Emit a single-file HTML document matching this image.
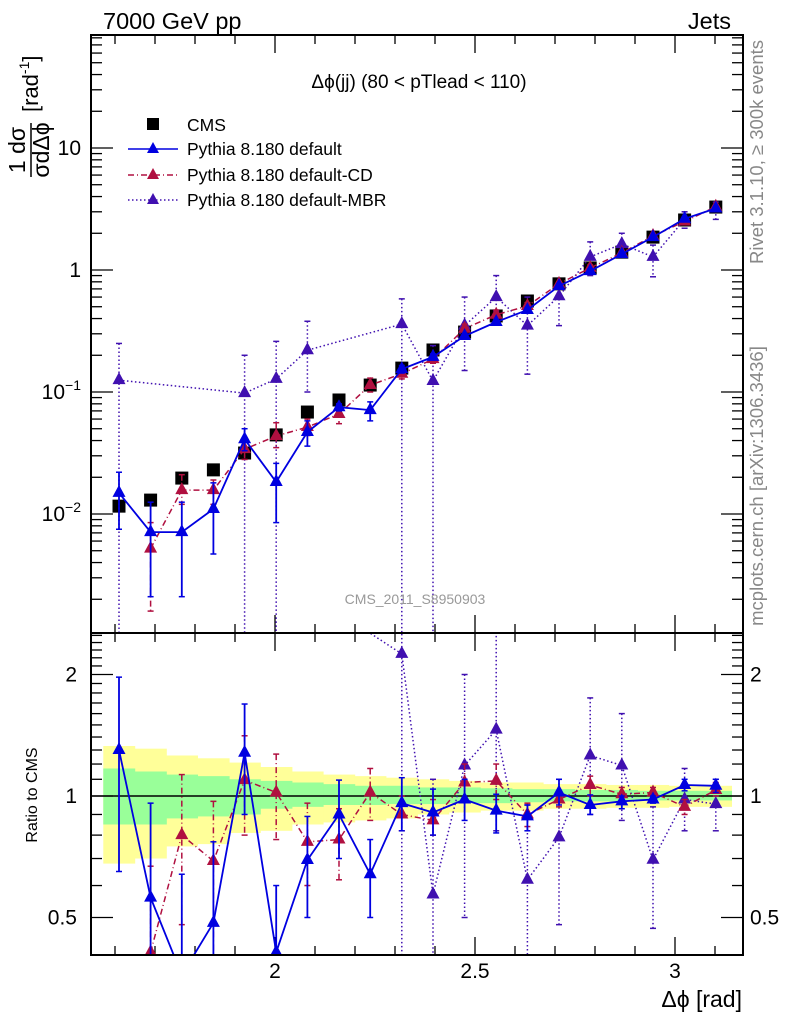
<!DOCTYPE html>
<html><head><meta charset="utf-8"><style>
html,body{margin:0;padding:0;background:#fff;overflow:hidden;width:786px;height:1024px;}
svg{display:block;}
svg text{font-family:"Liberation Sans",sans-serif;}
</style></head><body>
<svg id="chart" width="786" height="1024" viewBox="0 0 786 1024" xmlns="http://www.w3.org/2000/svg">
<defs>
<clipPath id="clipMain"><rect x="91" y="35" width="652" height="598"/></clipPath>
<clipPath id="clipRatio"><rect x="91" y="633" width="652" height="322"/></clipPath>
</defs>
<rect x="0" y="0" width="786" height="1024" fill="#fff"/>
<g id="bands" clip-path="url(#clipRatio)"></g>
<g id="axes"></g>
<g id="series-main" clip-path="url(#clipMain)"></g>
<g id="series-ratio" clip-path="url(#clipRatio)"></g>
<rect x="91" y="35" width="652" height="598" fill="none" stroke="#000" stroke-width="2"/>
<rect x="91" y="633" width="652" height="322" fill="none" stroke="#000" stroke-width="2"/>
<text x="103" y="29" font-size="23.5">7000 GeV pp</text>
<text x="731" y="29" font-size="23.5" text-anchor="end">Jets</text>
<text x="419" y="88" font-size="19" text-anchor="middle">Δϕ(jj) (80 &lt; pTlead &lt;  110)</text>
<text x="415" y="604" font-size="14" fill="#999" text-anchor="middle">CMS_2011_S8950903</text>
<text transform="translate(763,152) rotate(-90)" font-size="18.5" fill="#888" text-anchor="middle">Rivet 3.1.10, ≥ 300k events</text>
<text transform="translate(763,486) rotate(-90)" font-size="18.5" fill="#888" text-anchor="middle">mcplots.cern.ch [arXiv:1306.3436]</text>
<g transform="translate(31,150) rotate(-90)">
<text x="0" y="-6" font-size="23" text-anchor="middle">1 dσ</text>
<line x1="-27" y1="0" x2="27" y2="0" stroke="#000" stroke-width="1.5"/>
<text x="0" y="18" font-size="23" text-anchor="middle">σdΔϕ</text>
<text x="38" y="7" font-size="22">[rad<tspan font-size="14" dy="-9">-1</tspan><tspan dy="9">]</tspan></text>
</g>
<text transform="translate(37,795) rotate(-90)" font-size="16" text-anchor="middle">Ratio to CMS</text>
<text x="742" y="1007" font-size="23" text-anchor="end">Δϕ [rad]</text>
<g id="legend">
<rect x="147" y="118" width="12" height="12" fill="#000"/>
<text x="187" y="131" font-size="17.5">CMS</text>
<line x1="128" y1="149" x2="178" y2="149" stroke="#0000e0" stroke-width="1.5"/>
<polygon points="153,142 159,153 147,153" fill="#0000e0"/>
<text x="187" y="155" font-size="17.5">Pythia 8.180 default</text>
<line x1="128" y1="175" x2="178" y2="175" stroke="#b01040" stroke-width="1.5" stroke-dasharray="6,3,1,3"/>
<polygon points="153,168 159,179 147,179" fill="#b01040"/>
<text x="187" y="181" font-size="17.5">Pythia 8.180 default-CD</text>
<line x1="128" y1="200" x2="178" y2="200" stroke="#4010b0" stroke-width="1.5" stroke-dasharray="1.5,2.5"/>
<polygon points="153,193 159,204 147,204" fill="#4010b0"/>
<text x="187" y="206" font-size="17.5">Pythia 8.180 default-MBR</text>
</g>
</svg>
<script>
// ---- data ----
const binCenters = [1.610,1.689,1.767,1.846,1.924,2.003,2.081,2.160,2.238,2.317,2.395,2.474,2.553,2.631,2.710,2.788,2.867,2.945,3.024,3.102];
const cmsValues = [0.0116,0.0130,0.0197,0.0230,0.0316,0.0445,0.0685,0.086,0.114,0.157,0.221,0.31,0.42,0.557,0.77,1.04,1.40,1.86,2.57,3.28];
const defValues = [0.0149,0.0071,0.0071,0.011,0.041,0.0183,0.047,0.075,0.071,0.154,0.194,0.288,0.375,0.47,0.74,0.98,1.35,1.86,2.63,3.2];
const defUp = [0.022,0.0125,0.0125,0.018,0.05,0.026,0.058,0.08,0.083,0.165,0.205,0.30,0.39,0.49,0.77,1.02,1.40,1.92,2.72,3.3];
const defDn = [0.0075,0.0021,0.0021,0.0047,0.033,0.0085,0.036,0.07,0.058,0.143,0.183,0.276,0.36,0.45,0.71,0.94,1.30,1.80,2.54,3.1];
const cdValues = [null,0.0052,0.0157,0.0157,0.034,0.0436,0.0516,0.066,0.114,0.141,0.186,0.33,0.43,0.507,0.77,1.04,1.38,1.9,2.5,3.3];
const cdUp = [null,0.0085,0.021,0.019,0.041,0.056,0.06,0.074,0.13,0.155,0.2,0.36,0.47,0.54,0.8,1.10,1.44,1.96,2.6,3.4];
const cdDn = [null,0.0016,0.012,0.012,0.028,0.035,0.044,0.055,0.10,0.128,0.172,0.30,0.40,0.47,0.73,0.98,1.32,1.84,2.4,3.2];
const mbrValues = [0.125,null,null,null,0.098,0.128,0.22,null,null,0.36,0.123,0.35,0.6,0.35,0.61,1.28,1.63,1.28,2.6,3.2];
const mbrUp = [0.25,null,null,null,0.2,0.26,0.38,null,null,0.58,0.24,0.6,0.9,0.6,0.78,1.7,2.0,1.6,3.0,3.6];
const mbrDn = [0.0001,null,null,null,0.0001,0.0001,0.1,null,null,0.0001,0.0001,0.15,0.46,0.14,0.35,0.9,1.3,0.88,2.2,2.6];
const defRatio = [1.30,0.56,0.36,0.485,1.28,0.41,0.694,0.90,0.64,0.96,0.91,0.98,0.92,0.89,1.02,0.95,0.97,0.98,1.065,1.06];
const defRatioUp = [1.97,0.96,0.64,0.77,1.69,0.60,0.89,1.095,0.78,1.11,1.04,1.10,1.01,0.95,1.10,1.006,1.0,1.0,1.1,1.1];
const defRatioDn = [0.65,0.2,0.1,0.2,0.90,0.19,0.5,0.70,0.50,0.82,0.80,0.87,0.81,0.82,0.95,0.90,0.93,0.96,1.03,1.02];
const cdRatio = [null,0.41,0.80,0.69,1.095,1.02,0.77,0.78,1.02,0.90,0.87,1.08,1.09,0.90,0.98,1.065,1.01,1.02,0.94,1.035];
const cdRatioUp = [null,0.67,1.13,0.97,1.41,1.27,0.96,0.93,1.17,1.0,0.98,1.2,1.2,0.96,1.02,1.12,1.05,1.05,0.98,1.08];
const cdRatioDn = [null,0.2,0.48,0.38,0.80,0.78,0.60,0.62,0.87,0.82,0.80,0.97,0.98,0.84,0.94,1.0,0.97,0.98,0.9,1.0];
const mbrRatio = [11,null,null,null,3.1,2.9,3.2,null,null,2.25,0.57,1.19,1.46,0.62,0.79,1.26,1.19,0.695,0.98,0.955];
const mbrRatioUp = [null,null,null,null,null,null,null,null,null,5,1.10,2.0,2.55,0.95,1.10,1.75,1.6,0.94,1.17,1.1];
const mbrRatioDn = [null,null,null,null,null,null,null,null,null,0.3,0.2,0.5,0.82,0.2,0.48,0.9,0.87,0.47,0.82,0.82];
const bandYellowUp = [1.33,1.31,1.26,1.24,1.21,1.18,1.15,1.13,1.12,1.11,1.10,1.09,1.08,1.08,1.07,1.07,1.065,1.065,1.06,1.06];
const bandYellowDn = [0.68,0.70,0.75,0.76,0.81,0.82,0.85,0.86,0.87,0.88,0.90,0.91,0.92,0.92,0.93,0.93,0.935,0.935,0.94,0.94];
const bandGreenUp = [1.17,1.15,1.13,1.12,1.10,1.09,1.08,1.07,1.06,1.06,1.05,1.05,1.045,1.04,1.04,1.035,1.035,1.03,1.03,1.03];
const bandGreenDn = [0.85,0.85,0.88,0.89,0.90,0.93,0.94,0.95,0.95,0.955,0.955,0.96,0.96,0.965,0.97,0.97,0.97,0.975,0.975,0.975];
const xTickLabels = [2,2.5,3];
const yMainTickLabels = [10,1,0.1,0.01];
const yRatioTickLabels = [2,1,0.5];

// ---- axes ----
const NS = "http://www.w3.org/2000/svg";
const X0 = 91, X1 = 743, YM0 = 35, YM1 = 633, YR0 = 633, YR1 = 955;
const halfBin = Math.PI/80;
function xs(v){ return 275 + (v-2)*400; }
function ym(v){ return 270 - Math.log10(v)*122; }
function yr(v){ return 796 - Math.log2(v)*121.5; }
function mk(tag, attrs, parent){ const e=document.createElementNS(NS,tag); for(const k in attrs) e.setAttribute(k, attrs[k]); parent.appendChild(e); return e; }

const axes = document.getElementById('axes');


for(let i=15;i<=31;i++){
  const v=i/10, x=xs(v);
  if(x<X0||x>X1) continue;
  const major = (i%5===0);
  const L = major?18:9;
  [[YM0,1],[YM1,-1],[YR0,1],[YR1,-1]].forEach(([y,d])=>{
    mk('line',{x1:x,y1:y,x2:x,y2:y+d*L,stroke:'#000','stroke-width':1.3},axes);
  });
}
xTickLabels.forEach(v=>{
  const t=mk('text',{x:xs(v),y:978,'font-size':21,'text-anchor':'middle'},axes);
  t.textContent=String(v);
  
  
});
for(let d=-3; d<=1; d++){
  for(let m=1;m<=9;m++){
    const v=m*Math.pow(10,d), y=ym(v);
    if(y<YM0||y>YM1) continue;
    const L = m===1?22:11;
    mk('line',{x1:X0,y1:y,x2:X0+L,y2:y,stroke:'#000','stroke-width':1.3},axes);
    mk('line',{x1:X1,y1:y,x2:X1-L,y2:y,stroke:'#000','stroke-width':1.3},axes);
  }
}
yMainTickLabels.forEach(v=>{
  const y=ym(v);
  const t=mk('text',{x:81,y:y+7,'font-size':21,'text-anchor':'end'},axes);
  if(v>=1){ t.textContent=String(v); }
  else {
    const e = Math.round(Math.log10(v));
    t.textContent='10';
    const s=document.createElementNS(NS,'tspan'); s.setAttribute('dy','-9'); s.setAttribute('font-size','14'); s.textContent='−'+Math.abs(e); t.appendChild(s);
  }
  
  
});
const rt=[0.4,0.5,0.6,0.7,0.8,0.9,1,1.1,1.2,1.3,1.4,1.5,1.6,1.7,1.8,1.9,2,2.1,2.2,2.3,2.4,2.5];
rt.forEach(v=>{
  const y=yr(v); if(y<YR0||y>YR1) return;
  const L=(v===0.5||v===1||v===2)?22:11;
  mk('line',{x1:X0,y1:y,x2:X0+L,y2:y,stroke:'#000','stroke-width':1.3},axes);
  mk('line',{x1:X1,y1:y,x2:X1-L,y2:y,stroke:'#000','stroke-width':1.3},axes);
});
yRatioTickLabels.forEach(v=>{
  const y=yr(v);
  const t=mk('text',{x:77,y:y+7,'font-size':21,'text-anchor':'end'},axes);
  t.textContent=String(v);
  
  
  const t2=mk('text',{x:750,y:y+7,'font-size':21,'text-anchor':'start'},axes);
  t2.textContent=String(v);
  
  
});

// ---- bands ----
const bands=document.getElementById('bands');
function bandRects(up,dn,color,name){
  binCenters.forEach((c,i)=>{
    const r=mk('rect',{x:xs(c-halfBin),y:yr(up[i]),width:xs(c+halfBin)-xs(c-halfBin)+0.5,height:yr(dn[i])-yr(up[i]),fill:color},bands);
    
    
  });
}
bandRects(bandYellowUp,bandYellowDn,'#ffff99','band-yellow');
bandRects(bandGreenUp,bandGreenDn,'#99ff99','band-green');
mk('line',{x1:X0,y1:yr(1),x2:X1,y2:yr(1),stroke:'#000','stroke-width':1.5},bands);

// ---- series ----
function drawSeries(parent, vals, up, dn, yf, color, dash, name, sw){
  const g=mk('g',{},parent);
  
  
  let pts=[];
  vals.forEach((v,i)=>{ if(v!=null) pts.push(xs(binCenters[i]).toFixed(1)+','+yf(v).toFixed(1)); });
  const pl=mk('polyline',{points:pts.join(' '),fill:'none',stroke:color,'stroke-width':sw,'stroke-dasharray':dash},g);
  
  
  vals.forEach((v,i)=>{
    if(v==null) return;
    const x=xs(binCenters[i]), y=yf(v);
    if(up && up[i]!=null){
      const e=mk('line',{x1:x,y1:yf(up[i]),x2:x,y2:yf(dn[i]),stroke:color,'stroke-width':sw,'stroke-dasharray':dash},g);
      
      
      mk('line',{x1:x-3,y1:yf(up[i]),x2:x+3,y2:yf(up[i]),stroke:color,'stroke-width':1.5},g);
      mk('line',{x1:x-3,y1:yf(dn[i]),x2:x+3,y2:yf(dn[i]),stroke:color,'stroke-width':1.5},g);
    }
    const p=mk('polygon',{points:`${x},${y-8} ${x+6.5},${y+4} ${x-6.5},${y+4}`,fill:color},g);
    
    
  });
}
const sm=document.getElementById('series-main');


const sr=document.getElementById('series-ratio');


cmsValues.forEach((v,i)=>{
  const x=xs(binCenters[i]), y=ym(v);
  const r=mk('rect',{x:x-6.5,y:y-6.5,width:13,height:13,fill:'#000'},sm);
  
  
});
drawSeries(sm, mbrValues, mbrUp, mbrDn, ym, '#4010b0', '1.5,2.5', 'pythia-mbr', 1.5);
drawSeries(sm, cdValues, cdUp, cdDn, ym, '#b01040', '6,3,1,3', 'pythia-cd', 1.5);
drawSeries(sm, defValues, defUp, defDn, ym, '#0000e0', 'none', 'pythia-default', 1.8);
drawSeries(sr, mbrRatio, mbrRatioUp, mbrRatioDn, yr, '#4010b0', '1.5,2.5', 'ratio-pythia-mbr', 1.5);
drawSeries(sr, cdRatio, cdRatioUp, cdRatioDn, yr, '#b01040', '6,3,1,3', 'ratio-pythia-cd', 1.5);
drawSeries(sr, defRatio, defRatioUp, defRatioDn, yr, '#0000e0', 'none', 'ratio-pythia-default', 1.8);
</script>
</body></html>
